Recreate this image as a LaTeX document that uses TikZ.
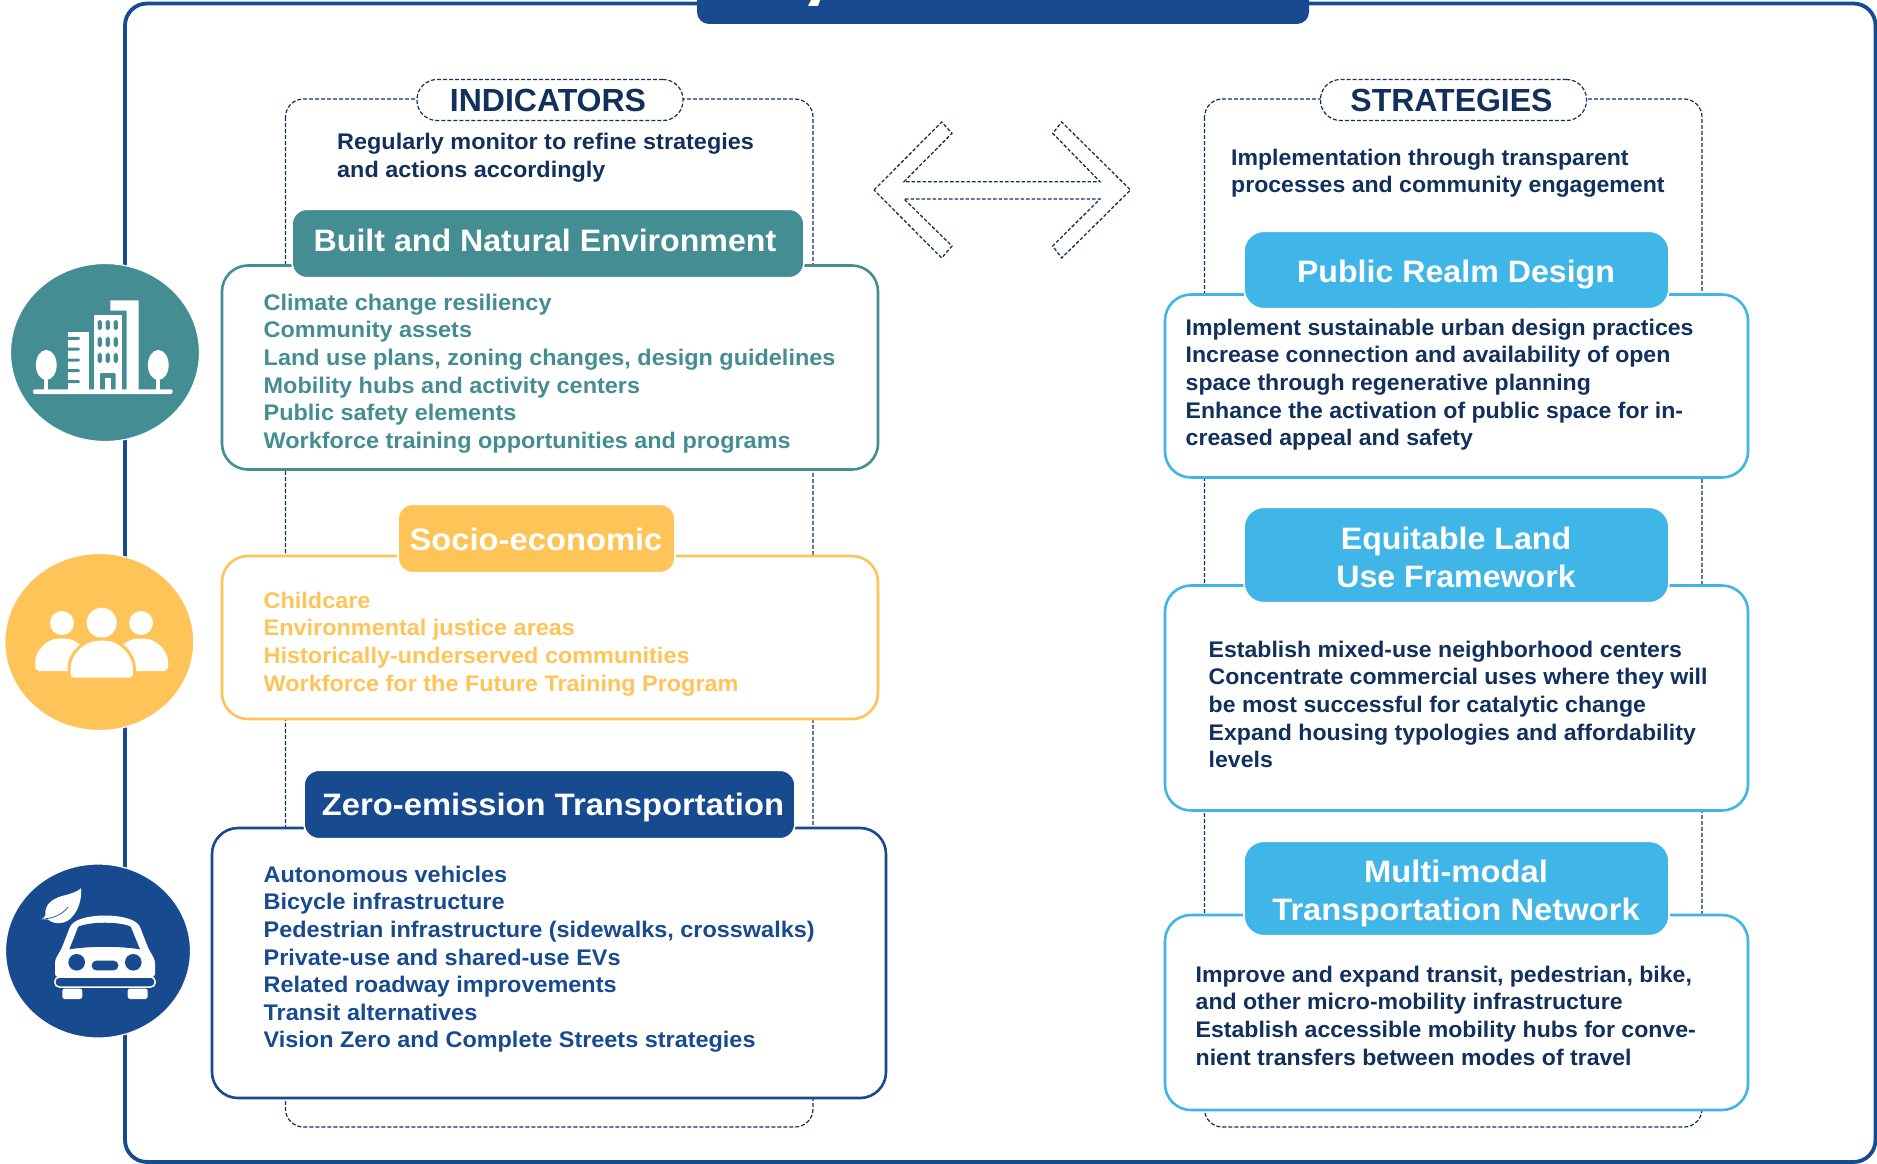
\documentclass[tikz,border=0pt]{standalone}
\usepackage{fontspec}
\setmainfont{Liberation Sans}
\newfontfamily\labelfont[FakeStretch=1.037]{Liberation Sans}
\newfontfamily\rightfont[FakeStretch=1.021]{Liberation Sans}
\newfontfamily\widefont[FakeStretch=1.056]{Liberation Sans}
\newfontfamily\pillfont[FakeStretch=1.0]{Liberation Sans}
\usetikzlibrary{shapes.geometric}
\definecolor{frameblue}{HTML}{174A8F}
\definecolor{tealc}{HTML}{448D92}
\definecolor{yellowc}{HTML}{FFC457}
\definecolor{skyc}{HTML}{3FB5E8}
\definecolor{navyc}{HTML}{12305C}
\tikzset{
  dashline/.style={draw=navyc,line width=1.2pt,dash pattern=on 4pt off 2pt},
  cardbox/.style={draw=#1,line width=2.6pt,fill=white,rounded corners=26pt,minimum height=0pt,inner sep=0pt},
  headbox/.style={fill=#1,draw=white,line width=1.6pt,rounded corners=15pt,inner sep=0pt},
  skyhead/.style={fill=skyc,draw=white,line width=1.6pt,rounded corners=20pt,inner sep=0pt,minimum width=425pt},
  pillbox/.style={dashline,fill=white,rounded corners=20pt,inner sep=0pt},
  roundel/.style={ellipse,fill=#1,draw=white,line width=1.2pt,inner sep=0pt},
  headtext/.style={text=white,font=\labelfont\bfseries\fontsize{31}{38}\selectfont,align=center,anchor=base,inner sep=0pt},
  wideheadtext/.style={text=white,font=\widefont\bfseries\fontsize{31}{38}\selectfont,align=center,anchor=base,inner sep=0pt},
  pilltext/.style={text=navyc,font=\pillfont\bfseries\fontsize{32}{38}\selectfont,anchor=base,inner sep=0pt},
  itemtext/.style={text=#1,font=\labelfont\bfseries\fontsize{22.6}{27.6}\selectfont,align=left,anchor=north west,inner sep=0pt},
  rightitem/.style={text=navyc,font=\rightfont\bfseries\fontsize{22.6}{27.6}\selectfont,align=left,anchor=north west,inner sep=0pt},
}
\newcommand{\firstline}{\rule{0pt}{18pt}}
\begin{document}
\begin{tikzpicture}[x=1pt,y=-1pt]
\useasboundingbox (0,0) rectangle (1877,1164);
% frame
\draw[frameblue,line width=3.8pt,rounded corners=22pt] (125,3.5) rectangle (1875.5,1162);
\node[fill=frameblue,rounded corners=12pt,minimum width=612pt,minimum height=44pt,inner sep=0pt] (tab) at (1003,2) {};
\fill[white] (811,0) -- (820,0) -- (818,6) -- (808,6) -- cycle;
% containers
\draw[dashline,rounded corners=18pt] (285.5,99) rectangle (813,1127);
\draw[dashline,rounded corners=18pt] (1204.5,99) rectangle (1702,1127);
\node[pillbox,minimum width=266pt,minimum height=41pt] (pillL) at (550,100) {};
\node[pillbox,minimum width=266pt,minimum height=41pt] (pillR) at (1453.5,100) {};
\node[pilltext] at (548,111.7) {INDICATORS};
\node[pilltext] at (1451.5,111.7) {STRATEGIES};
\node[itemtext=navyc,anchor=north west] (introL) at (337,131) {\firstline Regularly monitor to refine strategies\\[0.5pt]and actions accordingly};
\node[rightitem] (introR) at (1231,147) {\firstline Implementation through transparent\\processes and community engagement};
% double arrow
\draw[dashline,line width=1.3pt,dash pattern=on 3.5pt off 2pt] (874,190) -- (941.7,122) -- (952,133.3) -- (904,181.7) -- (1100,181.7) -- (1052.7,133.3) -- (1061.7,122) -- (1130.5,190) -- (1061.7,258) -- (1052.7,246) -- (1100,199) -- (904,199) -- (952,246) -- (941.7,258) -- cycle;
% left cards
\node[cardbox=tealc,minimum width=656pt,minimum height=204pt] (c1) at (550,367.5) {};
\node[headbox=tealc,minimum width=512pt,minimum height=68.5pt] (h1) at (548,243.5) {};
\node[headtext] at (545,251) {Built and Natural Environment};
\node[itemtext=tealc] (t1) at (263.5,292) {\firstline Climate change resiliency\\Community assets\\Land use plans, zoning changes, design guidelines\\Mobility hubs and activity centers\\Public safety elements\\Workforce training opportunities and programs};
\node[cardbox=yellowc,minimum width=656pt,minimum height=163pt] (c2) at (550,637.5) {};
\node[headbox=yellowc,minimum width=277pt,minimum height=68.5pt] (h2) at (536.5,538.5) {};
\node[wideheadtext] at (536,550) {Socio-economic};
\node[itemtext=yellowc] (t2) at (263.5,590) {\firstline Childcare\\Environmental justice areas\\Historically-underserved communities\\Workforce for the Future Training Program};
\node[cardbox=frameblue,minimum width=674pt,minimum height=270pt] (c3) at (549,963) {};
\node[headbox=frameblue,minimum width=491pt,minimum height=68.5pt] (h3) at (549.5,804.5) {};
\node[wideheadtext] at (553,815) {Zero-emission Transportation};
\node[itemtext=frameblue] (t3) at (263.5,864) {\firstline Autonomous vehicles\\Bicycle infrastructure\\Pedestrian infrastructure (sidewalks, crosswalks)\\Private-use and shared-use EVs\\Related roadway improvements\\Transit alternatives\\Vision Zero and Complete Streets strategies};
% right cards
\node[cardbox=skyc,minimum width=583pt,minimum height=183pt] (r1) at (1456.5,386) {};
\node[skyhead,minimum height=77.5pt] (s1) at (1456.5,270) {};
\node[headtext] at (1456,282) {Public Realm Design};
\node[rightitem] (u1) at (1185.5,317) {\firstline Implement sustainable urban design practices\\Increase connection and availability of open\\space through regenerative planning\\Enhance the activation of public space for in-\\creased appeal and safety};
\node[cardbox=skyc,minimum width=583pt,minimum height=225pt] (r2) at (1456.5,698) {};
\node[skyhead,minimum height=95.5pt] (s2) at (1456.5,555) {};
\node[headtext] at (1456,587) {Equitable Land\\Use Framework};
\node[rightitem] (u2) at (1208.5,639) {\firstline Establish mixed-use neighborhood centers\\Concentrate commercial uses where they will\\be most successful for catalytic change\\Expand housing typologies and affordability\\levels};
\node[cardbox=skyc,minimum width=583pt,minimum height=195pt] (r3) at (1456.5,1012.5) {};
\node[skyhead,minimum height=94.5pt] (s3) at (1456.5,888.5) {};
\node[wideheadtext] at (1456,920) {Multi-modal\\Transportation Network};
\node[rightitem] (u3) at (1195.5,964) {\firstline Improve and expand transit, pedestrian, bike,\\and other micro-mobility infrastructure\\Establish accessible mobility hubs for conve-\\nient transfers between modes of travel};
% roundels
\node[roundel=tealc,minimum width=189pt,minimum height=178pt] (i1) at (105,352.5) {};
\node[roundel=yellowc,minimum width=189pt,minimum height=177pt] (i2) at (99.3,642) {};
\node[roundel=frameblue,minimum width=185pt,minimum height=174pt] (i3) at (98,951) {};
% building icon
\begin{scope}
\fill[white,rounded corners=2pt] (33,389.3) rectangle (172.7,394);
\fill[white] (46.3,365) ellipse[x radius=10.4pt,y radius=15pt];
\fill[white] (158.3,365) ellipse[x radius=10.4pt,y radius=15pt];
\fill[white] (44.3,375) rectangle (48.3,391);
\fill[white] (156.3,375) rectangle (160.3,391);
\fill[white] (67.7,332) rectangle (89.3,390);
\foreach \yy in {338.3,349,360,370.7,381.7}{\fill[tealc,rounded corners=1.3pt] (66,\yy-1.5) rectangle (80,\yy+1.5);}
\fill[white] (93.7,315) rectangle (122,390);
\foreach \xx in {99.7,107.7,115.7}{\foreach \yy in {325,342,358}{\fill[tealc,rounded corners=1.8pt] (\xx-2.2,\yy-5) rectangle (\xx+2.2,\yy+5);}}
\fill[tealc,rounded corners=1pt] (100,373) rectangle (115.7,389.3);
\fill[white] (104.7,378) rectangle (110.7,389.5);
\fill[white] (110.3,300.3) -- (138.7,300.3) -- (138.7,390) -- (126.7,390) -- (126.7,310.7) -- (110.3,310.7) -- cycle;
\end{scope}
% people icon
\begin{scope}
\fill[white] (101.7,622.7) circle[radius=15pt];
\fill[white] (62,623) circle[radius=12pt];
\fill[white] (141,623) circle[radius=12pt];
\fill[white,rounded corners=4pt] (35.3,671) -- (35.3,665.4) .. controls (35.3,650.7) and (47.3,638.7) .. (62,638.7) .. controls (76.7,638.7) and (88.7,650.7) .. (88.7,665.4) -- (88.7,671) -- cycle;
\fill[white,rounded corners=4pt] (114.3,671) -- (114.3,665.4) .. controls (114.3,650.7) and (126.3,638.7) .. (141,638.7) .. controls (155.7,638.7) and (168,650.7) .. (168,665.4) -- (168,671) -- cycle;
\filldraw[fill=white,draw=yellowc,line width=3pt,rounded corners=4pt] (69,679) -- (69,672) .. controls (69,654) and (83.6,639.2) .. (101.7,639.2) .. controls (119.8,639.2) and (134.4,654) .. (134.4,672) -- (134.4,679) -- cycle;
\end{scope}
% car icon
\begin{scope}
\fill[white,rounded corners=3pt] (55,977) -- (55,960) -- (61.7,948.3) -- (70.7,925) .. controls (85,913) and (125,913) .. (139.3,925) -- (148.3,948.3) -- (155,960) -- (155,977) -- cycle;
\fill[frameblue] (69.3,949.3) -- (78.3,926.7) .. controls (90,921.4) and (120,921.4) .. (130.7,926.7) -- (140,949.3) .. controls (120,946) and (90,946) .. (69.3,949.3) -- cycle;
\fill[frameblue] (76.7,962.3) circle[radius=8.3pt];
\fill[frameblue] (133.3,962.3) circle[radius=8.3pt];
\fill[frameblue,rounded corners=4.5pt] (91.7,960.7) rectangle (118.3,970.3);
\filldraw[fill=frameblue,draw=white,line width=1.5pt,rounded corners=4.5pt] (54.8,977) rectangle (155.2,987);
\fill[white,rounded corners=2.5pt] (62.3,988.5) -- (62.3,999) -- (82.3,999) -- (82.3,988.5) -- cycle;
\fill[white,rounded corners=2.5pt] (127.7,988.5) -- (127.7,999) -- (147.7,999) -- (147.7,988.5) -- cycle;
\fill[white] (40.7,919.5) .. controls (43,918.5) and (45,917) .. (45.5,915) .. controls (44,905) and (52,899) .. (62,896) .. controls (70,894) and (77,892) .. (81,888.3) .. controls (82,900) and (78,912) .. (70,919) .. controls (63,925) and (53,924) .. (48,919.5) .. controls (46,919) and (43,919.5) .. (40.7,919.5) -- cycle;
\draw[frameblue,line width=0.7pt] (41,919.3) .. controls (53,918.5) and (62,915) .. (68,907);
\end{scope}
\end{tikzpicture}
\end{document}
